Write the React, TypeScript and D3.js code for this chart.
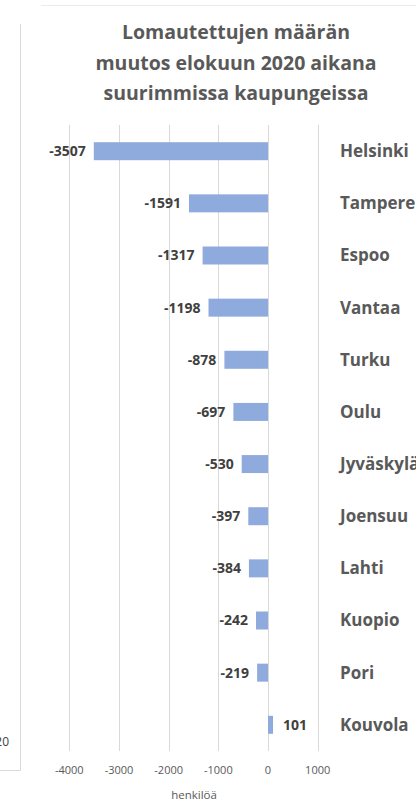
import * as d3 from 'd3';

const cities = ['Helsinki', 'Tampere', 'Espoo', 'Vantaa', 'Turku', 'Oulu', 'Jyväskylä', 'Joensuu', 'Lahti', 'Kuopio', 'Pori', 'Kouvola'];
const changes = [-3507, -1591, -1317, -1198, -878, -697, -530, -397, -384, -242, -219, 101];
const ticks = [-4000, -3000, -2000, -1000, 0, 1000];
const titleLines = ['Lomautettujen määrän', 'muutos elokuun 2020 aikana', 'suurimmissa kaupungeissa'];

const W = 416;
const H = 809;
const FONT = '"Open Sans", sans-serif';

export default function App() {
  const x = d3.scaleLinear().domain([-4000, 1000]).range([69.3, 317.7]);
  const y = d3.scaleBand<string>().domain(cities).range([125, 751]).paddingInner(0.655).paddingOuter(0.33);
  const bw = y.bandwidth();

  return (
    <svg width={W} height={H} style={{ position: 'absolute', left: 0, top: 0, background: '#fff' }} fontFamily={FONT}>
      {/* remnants of neighbouring chart frame */}
      <line x1={20.5} x2={20.5} y1={24} y2={770.5} stroke="#d9d9d9" />
      <line x1={0} x2={20.5} y1={770.5} y2={770.5} stroke="#d9d9d9" />
      <text x={9} y={746} textAnchor="end" fontSize={12} fill="#404040">2020</text>
      <line x1={41} x2={W} y1={5.5} y2={5.5} stroke="#ececec" />

      {/* title */}
      {titleLines.map((t, i) => (
        <text key={t} x={236} y={39 + i * 30.5} textAnchor="middle" fontSize={19.5} fontWeight={700} fill="#595959">
          {t}
        </text>
      ))}

      {/* gridlines */}
      {ticks.map((t) => (
        <line key={t} x1={Math.round(x(t)) + 0.5} x2={Math.round(x(t)) + 0.5} y1={125} y2={751} stroke="#d9d9d9" />
      ))}

      {/* bars */}
      {cities.map((c, i) => {
        const v = changes[i];
        const cy = (y(c) ?? 0) + bw / 2;
        const x0 = x(Math.min(0, v));
        const x1 = x(Math.max(0, v));
        return (
          <g key={c}>
            <rect x={x0} y={y(c)} width={x1 - x0} height={bw} fill="#8faadc" />
            <text
              x={v < 0 ? x0 - 8 : x1 + 10}
              y={cy}
              dy="0.35em"
              textAnchor={v < 0 ? 'end' : 'start'}
              fontSize={14}
              fontWeight={700}
              fill="#404040"
            >
              {v}
            </text>
            <text x={340} y={cy} dy="0.35em" fontSize={17} fontWeight={700} fill="#595959">
              {c}
            </text>
          </g>
        );
      })}

      {/* tick labels */}
      {ticks.map((t) => (
        <text key={t} x={x(t)} y={770} dy="0.35em" textAnchor="middle" fontSize={11} fill="#595959">
          {t}
        </text>
      ))}
      <text x={194} y={795} dy="0.35em" textAnchor="middle" fontSize={11.5} fill="#595959">
        henkilöä
      </text>
    </svg>
  );
}
